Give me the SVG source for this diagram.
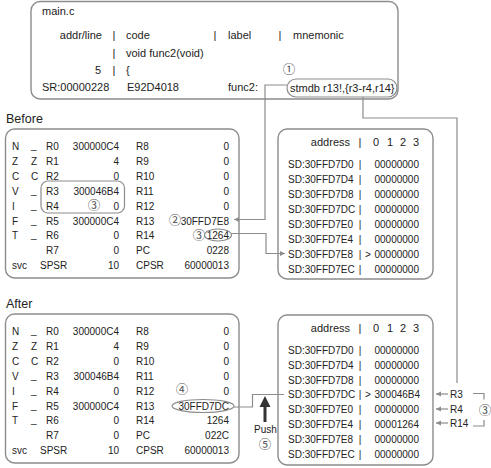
<svg xmlns="http://www.w3.org/2000/svg" width="491" height="468" viewBox="0 0 491 468">
<defs>
<style>
text{font-family:"Liberation Sans",Arial,sans-serif;fill:#222;}
.t11{font-size:11px;}
.t10{font-size:10px;}
.t12{font-size:12.5px;}
.e{text-anchor:end;}
.m{text-anchor:middle;}
.c{font-family:"Noto Sans CJK KR","DejaVu Sans",sans-serif;font-size:12.5px;fill:#555;text-anchor:middle;}
.box{fill:#fff;stroke:#8c8c8c;stroke-width:1.4;}
.hl{fill:none;stroke:#8c8c8c;stroke-width:1.2;}
.ln{fill:none;stroke:#8c8c8c;stroke-width:1.2;}
</style>
<marker id="ah" markerWidth="6" markerHeight="6" refX="5" refY="3" orient="auto" markerUnits="userSpaceOnUse">
<path d="M0,0.5 L5,3 L0,5.5 Z" fill="#8c8c8c"/>
</marker>
</defs>
<rect width="491" height="468" fill="#fff"/>

<g id="source">
<rect class="box" x="31" y="1.5" width="367" height="97.5" rx="9"/>
<text class="t11" x="42" y="15">main.c</text>
<text class="t11 e" x="102" y="39">addr/line</text>
<text class="t11 m" x="114" y="39">|</text>
<text class="t11" x="126" y="39">code</text>
<text class="t11 m" x="215" y="39">|</text>
<text class="t11" x="228" y="39">label</text>
<text class="t11 m" x="280" y="39">|</text>
<text class="t11" x="293" y="39">mnemonic</text>
<text class="t11 m" x="114" y="56.5">|</text>
<text class="t11" x="126" y="56.5">void func2(void)</text>
<text class="t11 e" x="101" y="73.5">5</text>
<text class="t11 m" x="114" y="73.5">|</text>
<text class="t11" x="126" y="73.5">{</text>
<text class="c" x="289" y="74">①</text>
<text class="t11" x="42" y="91">SR:00000228</text>
<text class="t11" x="127" y="91">E92D4018</text>
<text class="t11" x="228" y="91">func2:</text>
<rect class="hl" x="287" y="79" width="110" height="18" rx="9"/>
<text class="t11" x="290" y="91.5">stmdb r13!,{r3-r4,r14}</text>
</g>

<g id="before-regs">
<text class="t12" x="6" y="123">Before</text>
<rect class="box" x="5.5" y="129" width="233.5" height="149" rx="9"/>
<rect class="hl" x="41" y="181" width="83.5" height="32" rx="7"/>
<text class="t10" x="12" y="150">N</text><text class="t10" x="31" y="149">_</text><text class="t10" x="46" y="150">R0</text><text class="t10 e" x="119" y="150">300000C4</text><text class="t10" x="136" y="150">R8</text><text class="t10 e" x="229" y="150">0</text>
<text class="t10" x="12" y="164.9">Z</text><text class="t10" x="31" y="164.9">Z</text><text class="t10" x="46" y="164.9">R1</text><text class="t10 e" x="119" y="164.9">4</text><text class="t10" x="136" y="164.9">R9</text><text class="t10 e" x="229" y="164.9">0</text>
<text class="t10" x="12" y="179.8">C</text><text class="t10" x="31" y="179.8">C</text><text class="t10" x="46" y="179.8">R2</text><text class="t10 e" x="119" y="179.8">0</text><text class="t10" x="136" y="179.8">R10</text><text class="t10 e" x="229" y="179.8">0</text>
<text class="t10" x="12" y="194.7">V</text><text class="t10" x="31" y="193.7">_</text><text class="t10" x="46" y="194.7">R3</text><text class="t10 e" x="119" y="194.7">300046B4</text><text class="t10" x="136" y="194.7">R11</text><text class="t10 e" x="229" y="194.7">0</text>
<text class="t10" x="12" y="209.6">I</text><text class="t10" x="31" y="208.6">_</text><text class="t10" x="46" y="209.6">R4</text><text class="c" x="94" y="210">③</text><text class="t10 e" x="119" y="209.6">0</text><text class="t10" x="136" y="209.6">R12</text><text class="t10 e" x="229" y="209.6">0</text>
<text class="t10" x="12" y="224.5">F</text><text class="t10" x="31" y="223.5">_</text><text class="t10" x="46" y="224.5">R5</text><text class="t10 e" x="119" y="224.5">300000C4</text><text class="t10" x="136" y="224.5">R13</text><text class="c" x="175" y="225">②</text><text class="t10 e" x="229" y="224.5">30FFD7E8</text>
<text class="t10" x="12" y="239.4">T</text><text class="t10" x="31" y="238.4">_</text><text class="t10" x="46" y="239.4">R6</text><text class="t10 e" x="119" y="239.4">0</text><text class="t10" x="136" y="239.4">R14</text><text class="c" x="199" y="239.8">③</text><text class="t10 e" x="229" y="239.4">1264</text>
<text class="t10" x="46" y="254.3">R7</text><text class="t10 e" x="119" y="254.3">0</text><text class="t10" x="136" y="254.3">PC</text><text class="t10 e" x="229" y="254.3">0228</text>
<text class="t10" x="12" y="269.2">svc</text><text class="t10" x="40" y="269.2">SPSR</text><text class="t10 e" x="119" y="269.2">10</text><text class="t10" x="136" y="269.2">CPSR</text><text class="t10 e" x="229" y="269.2">60000013</text>
<ellipse class="hl" cx="218" cy="235" rx="13.5" ry="6"/>
</g>

<g id="before-mem">
<rect class="box" x="278" y="129" width="155" height="150" rx="9"/>
<text class="t11 e" x="350" y="146">address</text>
<text class="t11 m" x="360" y="146">|</text>
<text class="t11 m" x="376" y="146">0</text><text class="t11 m" x="390" y="146">1</text><text class="t11 m" x="403" y="146">2</text><text class="t11 m" x="416" y="146">3</text>
<text class="t10" x="288" y="168.3">SD:30FFD7D0</text><text class="t10 m" x="360" y="168.3">|</text><text class="t10" x="374.5" y="168.3">00000000</text>
<text class="t10" x="288" y="183.2">SD:30FFD7D4</text><text class="t10 m" x="360" y="183.2">|</text><text class="t10" x="374.5" y="183.2">00000000</text>
<text class="t10" x="288" y="198.1">SD:30FFD7D8</text><text class="t10 m" x="360" y="198.1">|</text><text class="t10" x="374.5" y="198.1">00000000</text>
<text class="t10" x="288" y="213">SD:30FFD7DC</text><text class="t10 m" x="360" y="213">|</text><text class="t10" x="374.5" y="213">00000000</text>
<text class="t10" x="288" y="227.9">SD:30FFD7E0</text><text class="t10 m" x="360" y="227.9">|</text><text class="t10" x="374.5" y="227.9">00000000</text>
<text class="t10" x="288" y="242.8">SD:30FFD7E4</text><text class="t10 m" x="360" y="242.8">|</text><text class="t10" x="374.5" y="242.8">00000000</text>
<text class="t10" x="288" y="257.7">SD:30FFD7E8</text><text class="t10 m" x="360" y="257.7">|</text><text class="t10" x="365" y="257.7">&gt;</text><text class="t10" x="374.5" y="257.7">00000000</text>
<text class="t10" x="288" y="272.6">SD:30FFD7EC</text><text class="t10 m" x="360" y="272.6">|</text><text class="t10" x="374.5" y="272.6">00000000</text>
</g>

<g id="after-regs">
<text class="t12" x="6" y="308">After</text>
<rect class="box" x="5.5" y="314" width="233.5" height="149" rx="9"/>
<text class="t10" x="12" y="335">N</text><text class="t10" x="31" y="334">_</text><text class="t10" x="46" y="335">R0</text><text class="t10 e" x="119" y="335">300000C4</text><text class="t10" x="136" y="335">R8</text><text class="t10 e" x="229" y="335">0</text>
<text class="t10" x="12" y="349.9">Z</text><text class="t10" x="31" y="349.9">Z</text><text class="t10" x="46" y="349.9">R1</text><text class="t10 e" x="119" y="349.9">4</text><text class="t10" x="136" y="349.9">R9</text><text class="t10 e" x="229" y="349.9">0</text>
<text class="t10" x="12" y="364.8">C</text><text class="t10" x="31" y="364.8">C</text><text class="t10" x="46" y="364.8">R2</text><text class="t10 e" x="119" y="364.8">0</text><text class="t10" x="136" y="364.8">R10</text><text class="t10 e" x="229" y="364.8">0</text>
<text class="t10" x="12" y="379.7">V</text><text class="t10" x="31" y="378.7">_</text><text class="t10" x="46" y="379.7">R3</text><text class="t10 e" x="119" y="379.7">300046B4</text><text class="t10" x="136" y="379.7">R11</text><text class="t10 e" x="229" y="379.7">0</text>
<text class="t10" x="12" y="394.6">I</text><text class="t10" x="31" y="393.6">_</text><text class="t10" x="46" y="394.6">R4</text><text class="t10 e" x="119" y="394.6">0</text><text class="t10" x="136" y="394.6">R12</text><text class="c" x="182" y="394">④</text><text class="t10 e" x="229" y="394.6">0</text>
<text class="t10" x="12" y="409.5">F</text><text class="t10" x="31" y="408.5">_</text><text class="t10" x="46" y="409.5">R5</text><text class="t10 e" x="119" y="409.5">300000C4</text><text class="t10" x="136" y="409.5">R13</text><text class="t10 e" x="229" y="409.5">30FFD7DC</text>
<text class="t10" x="12" y="424.4">T</text><text class="t10" x="31" y="423.4">_</text><text class="t10" x="46" y="424.4">R6</text><text class="t10 e" x="119" y="424.4">0</text><text class="t10" x="136" y="424.4">R14</text><text class="t10 e" x="229" y="424.4">1264</text>
<text class="t10" x="46" y="439.3">R7</text><text class="t10 e" x="119" y="439.3">0</text><text class="t10" x="136" y="439.3">PC</text><text class="t10 e" x="229" y="439.3">022C</text>
<text class="t10" x="12" y="454.2">svc</text><text class="t10" x="40" y="454.2">SPSR</text><text class="t10 e" x="119" y="454.2">10</text><text class="t10" x="136" y="454.2">CPSR</text><text class="t10 e" x="229" y="454.2">60000013</text>
<ellipse class="hl" cx="203" cy="406" rx="31" ry="6.5"/>
</g>

<g id="after-mem">
<rect class="box" x="278" y="315" width="155" height="150" rx="9"/>
<text class="t11 e" x="350" y="332">address</text>
<text class="t11 m" x="360" y="332">|</text>
<text class="t11 m" x="376" y="332">0</text><text class="t11 m" x="390" y="332">1</text><text class="t11 m" x="403" y="332">2</text><text class="t11 m" x="416" y="332">3</text>
<text class="t10" x="288" y="354">SD:30FFD7D0</text><text class="t10 m" x="360" y="354">|</text><text class="t10" x="374.5" y="354">00000000</text>
<text class="t10" x="288" y="368.8">SD:30FFD7D4</text><text class="t10 m" x="360" y="368.8">|</text><text class="t10" x="374.5" y="368.8">00000000</text>
<text class="t10" x="288" y="383.6">SD:30FFD7D8</text><text class="t10 m" x="360" y="383.6">|</text><text class="t10" x="374.5" y="383.6">00000000</text>
<text class="t10" x="288" y="398.4">SD:30FFD7DC</text><text class="t10 m" x="360" y="398.4">|</text><text class="t10" x="365" y="398.4">&gt;</text><text class="t10" x="374.5" y="398.4">300046B4</text>
<text class="t10" x="288" y="413.2">SD:30FFD7E0</text><text class="t10 m" x="360" y="413.2">|</text><text class="t10" x="374.5" y="413.2">00000000</text>
<text class="t10" x="288" y="428">SD:30FFD7E4</text><text class="t10 m" x="360" y="428">|</text><text class="t10" x="374.5" y="428">00001264</text>
<text class="t10" x="288" y="442.8">SD:30FFD7E8</text><text class="t10 m" x="360" y="442.8">|</text><text class="t10" x="374.5" y="442.8">00000000</text>
<text class="t10" x="288" y="457.6">SD:30FFD7EC</text><text class="t10 m" x="360" y="457.6">|</text><text class="t10" x="374.5" y="457.6">00000000</text>
</g>

<g id="push">
<line x1="265" y1="405" x2="265" y2="422" stroke="#333" stroke-width="3"/>
<path d="M265,396 L259.5,407 L270.5,407 Z" fill="#333"/>
<text class="t10" x="254" y="433">Push</text>
<text class="c" x="265" y="449">⑤</text>
</g>

<g id="reg-labels">
<text class="t10" x="450" y="397.5">R3</text>
<text class="t10" x="450" y="412.5">R4</text>
<text class="t10" x="450" y="427">R14</text>
<text class="c" x="485" y="414.5">③</text>
</g>

<g id="connectors">
<path class="ln" d="M287,85 H265 V219.5 H234" marker-end="url(#ah)"/>
<path class="ln" d="M231.5,233.5 H266 V253.5 H285" marker-end="url(#ah)"/>
<path class="ln" d="M363,97 V118 H457 V383"/>
<path class="ln" d="M234,407 H252.5 V394.5 H284"/>
<path class="ln" d="M448,394 H436" marker-end="url(#ah)"/>
<path class="ln" d="M448,409 H436" marker-end="url(#ah)"/>
<path class="ln" d="M448,423 H436" marker-end="url(#ah)"/>
<path class="ln" d="M473,393.5 H484 V399.5"/>
<path class="ln" d="M484,420 V426 H473"/>
</g>
</svg>
